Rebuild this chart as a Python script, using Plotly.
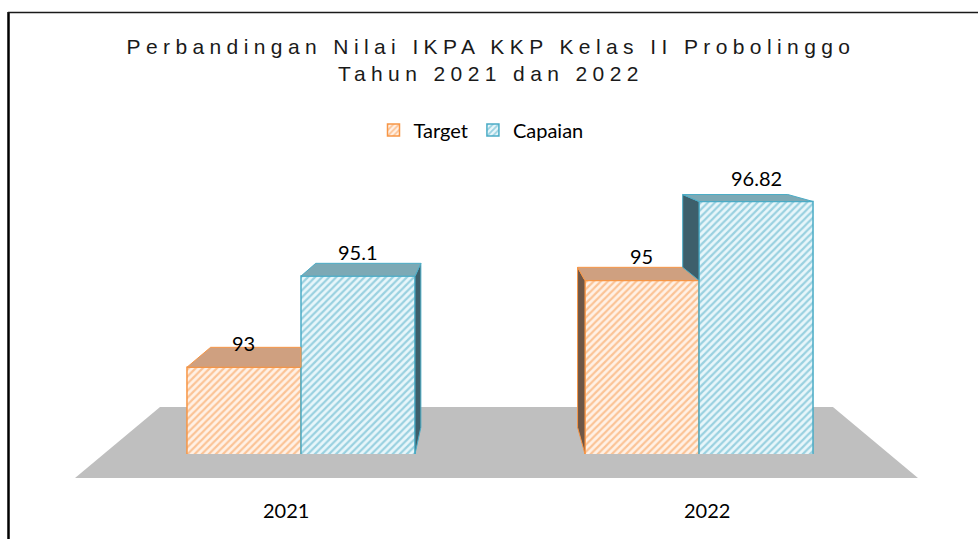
import plotly.graph_objects as go

# ---------------- data ----------------
categories = ["2021", "2022"]
series_names = ["Target", "Capaian"]
target = [93, 95]
capaian = [95.1, 96.82]
value_labels_target = ["93", "95"]
value_labels_capaian = ["95.1", "96.82"]
title_lines = ["Perbandingan Nilai IKPA KKP Kelas II Probolinggo", "Tahun 2021 dan 2022"]

# ---------------- layout constants ----------------
W, H = 978, 539
ML, MR, MT, MB = 102, 80, 172, 85
PW, PH = W - ML - MR, H - MT - MB
YMIN, YMAX = 91, 97.5
BARGAP = 0.427
NCAT = len(categories)
BW = (1 - BARGAP) * PW / NCAT / 2          # pixel width of one bar

# one-point perspective used for the fake 3D faces
VX, VY, K = 490, 112, 0.078

ORANGE, ORANGE_BG = "#F79646", "#FFF1E6"
CYAN, CYAN_BG = "#4BACC6", "#E8F6FA"
ORANGE_TOP, CYAN_TOP = "#CFA080", "#7CA9B5"
ORANGE_SIDE, CYAN_SIDE = "#6E5646", "#3D5F6B"
FLOOR = "#BFBFBF"
FONT_LBL = "Lato"


def xc(i):
    return ML + (i + 0.5) * PW / NCAT


def ypx(v):
    return MT + (YMAX - v) / (YMAX - YMIN) * PH


def back(p):
    return (p[0] + K * (VX - p[0]), p[1] + K * (VY - p[1]))


def px_paper(x, y):
    return (x - ML) / PW, (H - MB - y) / PH


def anchored_path(i, v, pts):
    """path in pixel offsets relative to data anchor (category i, value v)"""
    cx, cy = xc(i), ypx(v)
    segs = []
    for j, (x, y) in enumerate(pts):
        segs.append(("M" if j == 0 else "L") + f"{x - cx:.2f},{cy - y:.2f}")
    return " ".join(segs) + " Z"


fig = go.Figure()

pattern_common = dict(shape="/", size=5, solidity=0.45, fillmode="overlay")
fig.add_trace(go.Bar(
    name=series_names[0], x=categories, y=target,
    marker=dict(color=ORANGE_BG, line=dict(color=ORANGE, width=1.5),
                pattern=dict(fgcolor=ORANGE, **pattern_common)),
    hoverinfo="skip"))
fig.add_trace(go.Bar(
    name=series_names[1], x=categories, y=capaian,
    marker=dict(color=CYAN_BG, line=dict(color=CYAN, width=1.5),
                pattern=dict(fgcolor=CYAN, **pattern_common)),
    hoverinfo="skip"))

shapes = []

# floor (grey plane under the bars)
floor_top_y, floor_bot_y = 407, 478
floor_top_x, floor_bot_x = (160, 833), (75, 918)
fp = [px_paper(floor_top_x[0], floor_top_y), px_paper(floor_top_x[1], floor_top_y),
      px_paper(floor_bot_x[1], floor_bot_y), px_paper(floor_bot_x[0], floor_bot_y)]
shapes.append(dict(type="path", xref="paper", yref="paper", layer="below",
                   path="M" + " L".join(f"{a:.4f},{b:.4f}" for a, b in fp) + " Z",
                   fillcolor=FLOOR, line=dict(width=0)))


def face(i, v, pts, fill, line):
    shapes.append(dict(type="path", xref="x", yref="y", xsizemode="pixel",
                       ysizemode="pixel", xanchor=i, yanchor=v,
                       path=anchored_path(i, v, pts), fillcolor=fill,
                       line=dict(color=line, width=1)))


for i in range(NCAT):
    cx = xc(i)
    for s, (vals, top_c, side_c, edge) in enumerate(
            [(target, ORANGE_TOP, ORANGE_SIDE, ORANGE), (capaian, CYAN_TOP, CYAN_SIDE, CYAN)]):
        v = vals[i]
        xl, xr = cx - BW + s * BW, cx + s * BW
        yt, yb = ypx(v), ypx(YMIN)
        fl, fr = (xl, yt), (xr, yt)
        bl, br = back(fl), back(fr)
        left_group = cx < VX
        # side faces
        if left_group and s == 1:
            face(i, v, [fr, br, back((xr, yb)), (xr, yb)], side_c, edge)
        if not left_group and s == 0:
            face(i, v, [fl, bl, back((xl, yb)), (xl, yb)], side_c, edge)
        if not left_group and s == 1:
            yo = ypx(target[i])
            face(i, v, [fl, bl, back((xl, yo)), (xl, yo)], side_c, edge)
        # top face
        if left_group and s == 0:
            pts = [fl, fr, (xr, br[1]), bl]
        else:
            pts = [fl, fr, br, bl]
        face(i, v, pts, top_c, edge)

# chart frame (left and top border)
a0 = px_paper(8.5, 12)
a1 = px_paper(8.5, H + 5)
shapes.append(dict(type="line", xref="paper", yref="paper", x0=a0[0], y0=a0[1],
                   x1=a1[0], y1=a1[1], line=dict(color="#000000", width=2.5)))
b0 = px_paper(8, 12.5)
b1 = px_paper(W + 5, 12.5)
shapes.append(dict(type="line", xref="paper", yref="paper", x0=b0[0], y0=b0[1],
                   x1=b1[0], y1=b1[1], line=dict(color="#1a1a1a", width=1.5)))

annotations = []
for i in range(NCAT):
    for s, (vals, labs) in enumerate([(target, value_labels_target), (capaian, value_labels_capaian)]):
        annotations.append(dict(x=i, y=vals[i], xref="x", yref="y", text=labs[i],
                                showarrow=False, xshift=(s - 0.5) * BW, yshift=24,
                                xanchor="center", yanchor="middle",
                                font=dict(family=FONT_LBL, size=20, color="#000000")))
    # category labels centred on the floor front edge
    lx = floor_bot_x[0] + (i + 0.5) * (floor_bot_x[1] - floor_bot_x[0]) / NCAT
    p = px_paper(lx, 510)
    annotations.append(dict(x=p[0], y=p[1], xref="paper", yref="paper", text=categories[i],
                            showarrow=False, xanchor="center", yanchor="middle",
                            font=dict(family=FONT_LBL, size=20, color="#000000")))

fig.update_layout(
    width=W, height=H,
    margin=dict(l=ML, r=MR, t=MT, b=MB),
    paper_bgcolor="white", plot_bgcolor="rgba(0,0,0,0)",
    barmode="group", bargap=BARGAP, bargroupgap=0,
    title=dict(text="<br>".join(title_lines), x=0.502, xanchor="center",
               y=1 - 54 / H, yanchor="top", yref="container",
               font=dict(family="Liberation Sans", size=21, color="#1a1a1a")),
    legend=dict(orientation="h", x=px_paper(481, 0)[0], xanchor="center",
                y=px_paper(0, 130)[1], yanchor="middle",
                font=dict(family=FONT_LBL, size=20, color="#000000"),
                bgcolor="rgba(0,0,0,0)"),
    xaxis=dict(type="category", showticklabels=False, showgrid=False, zeroline=False,
               showline=False, ticks="", range=[-0.5, NCAT - 0.5]),
    yaxis=dict(visible=False, range=[YMIN, YMAX]),
    shapes=shapes, annotations=annotations,
    showlegend=True,
)

post = """
document.body.style.margin = '0';
var gd = document.getElementById('{plot_id}');
gd.querySelectorAll('.gtitle').forEach(function(t){ t.style.letterSpacing = '5.4px'; });
"""
fig.write_html("out.html", post_script=post, config={"displayModeBar": False})
